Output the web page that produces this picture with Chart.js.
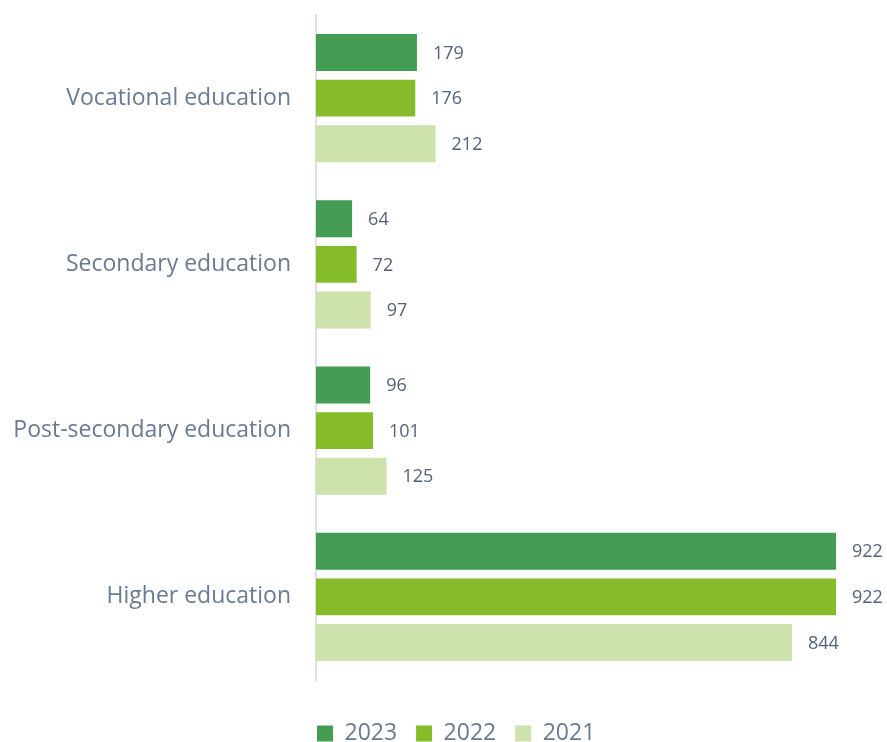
<!DOCTYPE html>
<html>
<head>
<meta charset="utf-8">
<script src="https://cdn.jsdelivr.net/npm/chart.js@4.4.1/dist/chart.umd.min.js"></script>
<style>
  html, body { margin: 0; padding: 0; background: #ffffff; }
  #wrap { width: 887px; height: 742px; }
</style>
</head>
<body>
<div id="wrap"><canvas id="eduChart" width="887" height="742"></canvas></div>
<script>
const categories = ["Vocational education", "Secondary education", "Post-secondary education", "Higher education"];
const seriesNames = ["2023", "2022", "2021"];
const values2023 = [179, 64, 96, 922];
const values2022 = [176, 72, 101, 922];
const values2021 = [212, 97, 125, 844];
const seriesColors = ["#449d53", "#86bb29", "#cde2ad"];

const FONT = "'Open Sans', 'Noto Sans', sans-serif";

// writes the number just past the end of every bar
const valueLabels = {
  id: "valueLabels",
  afterDatasetsDraw(chart) {
    const ctx = chart.ctx;
    ctx.save();
    ctx.font = "18px " + FONT;
    ctx.fillStyle = "#556379";
    ctx.textAlign = "left";
    ctx.textBaseline = "middle";
    chart.data.datasets.forEach((ds, i) => {
      chart.getDatasetMeta(i).data.forEach((bar, j) => {
        ctx.fillText(String(ds.data[j]), bar.x + 16, bar.y + 1);
      });
    });
    ctx.restore();
  }
};

// legend starts at the axis line and sits down at the bottom edge
const legendShift = {
  id: "legendShift",
  afterLayout(chart) {
    const lg = chart.legend;
    if (!lg || !lg.lineWidths || !lg.lineWidths.length) return;
    const pad = lg.options.labels.padding;
    const firstX = (lg.left + pad + lg.right - lg.lineWidths[0]) / 2;
    const dx = chart.chartArea.left + 1 - firstX;
    const dy = 23;
    lg.left += dx; lg.right += dx;
    lg.top += dy; lg.bottom += dy;
  }
};

const allSeries = [values2023, values2022, values2021];

new Chart(document.getElementById("eduChart").getContext("2d"), {
  type: "bar",
  data: {
    labels: categories,
    datasets: allSeries.map((vals, i) => ({
      label: seriesNames[i],
      data: vals,
      backgroundColor: seriesColors[i],
      borderWidth: 0,
      categoryPercentage: 0.824,
      barPercentage: 0.81
    }))
  },
  options: {
    indexAxis: "y",
    responsive: false,
    animation: false,
    layout: { padding: { top: 15, right: 51, bottom: 10, left: 0 } },
    scales: {
      x: {
        min: 0,
        max: 922,
        display: false,
        grid: { display: false }
      },
      y: {
        grid: { display: false, drawTicks: false },
        border: { display: true, color: "#dde1e6", width: 2 },
        ticks: {
          padding: 25,
          color: "#6a7a93",
          font: { family: FONT, size: 23 }
        },
        afterFit(scale) {
          scale.width = 316;
          scale.paddingTop = 0;
          scale.paddingBottom = 0;
        }
      }
    },
    plugins: {
      tooltip: { enabled: false },
      legend: {
        position: "bottom",
        labels: {
          boxWidth: 16,
          boxHeight: 16,
          padding: 19,
          color: "#6a7a93",
          font: { family: FONT, size: 23 }
        }
      }
    }
  },
  plugins: [valueLabels, legendShift]
});
</script>
</body>
</html>
